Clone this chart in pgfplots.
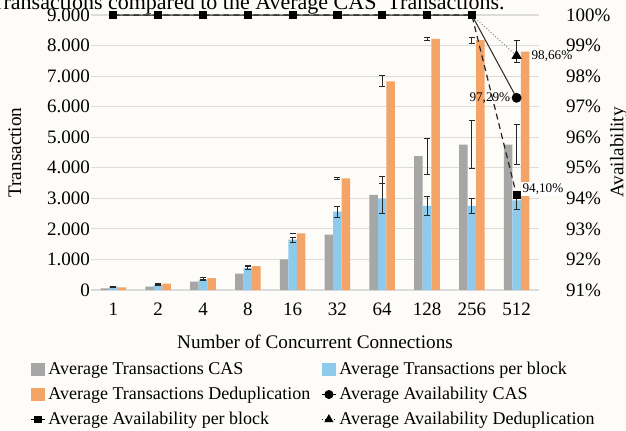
\documentclass[border=0pt]{standalone}
\usepackage{pgfplots}
\pgfplotsset{compat=1.18}
\usepackage{pgfplotstable}
\usepackage{fontspec}
\setmainfont{Liberation Serif}

\definecolor{cgray}{RGB}{166,166,166}
\definecolor{cblue}{RGB}{142,202,236}
\definecolor{corange}{RGB}{244,164,102}
\definecolor{cgrid}{RGB}{220,220,220}
\definecolor{cerr}{RGB}{40,40,40}
\definecolor{bg}{RGB}{253,252,248}
\pagecolor{bg}

% transactions: mean and error per connection count
\pgfplotstableread{
x cas caserr blk blkerr ded dederr
0 55 15 110 15 88 15
1 110 15 175 15 210 15
2 275 80 340 20 385 25
3 540 60 715 40 780 15
4 1000 60 1650 80 1850 15
5 1815 180 2565 180 3650 20
6 3110 600 2990 480 6830 180
7 4380 590 2750 300 8220 50
8 4760 780 2750 250 8180 100
9 4760 650 2930 300 7800 350
}\bars

% availability in percent
\pgfplotstableread{
x cas blk ded
0 100 100 100
1 100 100 100
2 100 100 100
3 100 100 100
4 100 100 100
5 100 100 100
6 100 100 100
7 100 100 100
8 100 100 100
9 97.29 94.10 98.66
}\avail

\pgfplotsset{
  common/.style={
    width=224pt, height=137.5pt, scale only axis,
    xmin=-0.5, xmax=9.5,
    axis line style={draw=none},
    major tick length=0pt,
    /pgf/number format/assume math mode=true,
    tick label style={font=\fontsize{9.5}{11}\selectfont},
    label style={font=\fontsize{9.6}{11}\selectfont},
  },
  errs/.style={
    error bars/.cd, y dir=both, y explicit,
    error bar style={cerr, line width=0.4pt},
    error mark options={rotate=90, mark size=1.5pt, cerr, line width=0.5pt},
  },
  shortline/.style={legend image code/.code={%
    \draw[mark repeat=2,mark phase=2,##1] plot coordinates {(0pt,0pt)(3.5pt,0pt)(7pt,0pt)};}},
  box/.style={legend image code/.code={\fill[#1] (0pt,-3pt) rectangle (6.5pt,3pt);}},
}

\begin{document}
\begin{tikzpicture}
\begin{axis}[
  common,
  ymin=0, ymax=9000,
  xtick={0,...,9}, xticklabels={1,2,4,8,16,32,64,128,256,512},
  xticklabel style={yshift=-3pt},
  ytick={0,1000,...,9000},
  scaled y ticks=false,
  yticklabel style={xshift=3pt, /pgf/number format/.cd, fixed, precision=0, 1000 sep={.}},
  ymajorgrids, grid style={cgrid, line width=0.6pt},
  xlabel={Number of Concurrent Connections},
  xlabel style={at={(axis description cs:0.5,-0.189)}, anchor=center},
  ylabel={Transaction},
  ylabel style={at={(axis description cs:-0.17,0.5)}, anchor=center},
]
\addplot[ybar, bar width=0.19, bar shift=-0.19, fill=cgray, draw=none, errs]
  table[x=x, y=cas, y error=caserr] {\bars};
\addplot[ybar, bar width=0.19, bar shift=0, fill=cblue, draw=none, errs]
  table[x=x, y=blk, y error=blkerr] {\bars};
\addplot[ybar, bar width=0.19, bar shift=0.19, fill=corange, draw=none, errs]
  table[x=x, y=ded, y error=dederr] {\bars};
\end{axis}

\begin{axis}[
  common,
  clip=false,
  ymin=91, ymax=100,
  hide x axis,
  axis y line*=right,
  ytick={91,...,100},
  yticklabel={\pgfmathprintnumber{\tick}\%},
  yticklabel style={anchor=west, xshift=10pt},
  ylabel={Availability},
  ylabel style={at={(axis description cs:1.178,0.5)}, anchor=center},
  legend columns=2,
  legend cell align=left,
  legend style={at={(axis description cs:-0.136,-0.244)}, anchor=north west,
    draw=none, fill=none, inner sep=0pt,
    font=\fontsize{9}{10}\selectfont,
    nodes={inner sep=1.5pt, text height=7pt, text depth=2pt},
    row sep=0.5pt,
    /tikz/every even column/.append style={column sep=4pt}},
]
\addlegendimage{box=cgray}
\addlegendentry{Average Transactions CAS}
\addlegendimage{box=cblue}
\addlegendentry{Average Transactions per block}
\addlegendimage{box=corange}
\addlegendentry{Average Transactions Deduplication}
\addlegendimage{shortline, black, line width=0.5pt, mark=*, mark size=2pt}
\addlegendentry{Average Availability CAS}
\addlegendimage{shortline, black, line width=0.5pt, densely dashed, mark=square*, mark size=1.6pt, mark options={solid}}
\addlegendentry{Average Availability per block}
\addlegendimage{shortline, black, line width=0.5pt, densely dotted, mark=triangle*, mark size=2.2pt, mark options={solid}}
\addlegendentry{Average Availability Deduplication}

\addplot[forget plot, gray, line width=0.5pt, densely dotted, mark=triangle*, mark size=2.5pt,
  mark options={solid, black}, mark indices={10}] table[x=x, y=ded] {\avail};
\addplot[forget plot, black!85, line width=0.5pt, mark=*, mark size=2.2pt,
  mark options={black}, mark indices={10}] table[x=x, y=cas] {\avail};
\addplot[forget plot, black!85, line width=0.6pt, densely dashed, mark=square*, mark size=1.75pt,
  mark options={solid, black}] table[x=x, y=blk] {\avail};

\node[font=\fontsize{6.6}{8}\selectfont, anchor=west, inner sep=0.5pt, xshift=6.8pt] at (axis cs:9,98.66) {98,66\%};
\node[font=\fontsize{6.6}{8}\selectfont, anchor=east, inner sep=0.5pt, xshift=-2.5pt] at (axis cs:9,97.29) {97,29\%};
\node[font=\fontsize{6.6}{8}\selectfont, anchor=west, fill=white, inner sep=0.8pt, xshift=2pt, yshift=3pt] at (axis cs:9,94.10) {94,10\%};
\end{axis}

\node[anchor=base east, font=\fontsize{11}{13}\selectfont, inner sep=0pt] at (207pt,140.5pt)
  {Transactions compared to the Average CAS\ \ Transactions.};
\pgfresetboundingbox
\useasboundingbox (-45.5pt,-70pt) rectangle (267.5pt,145pt);
\end{tikzpicture}
\end{document}
